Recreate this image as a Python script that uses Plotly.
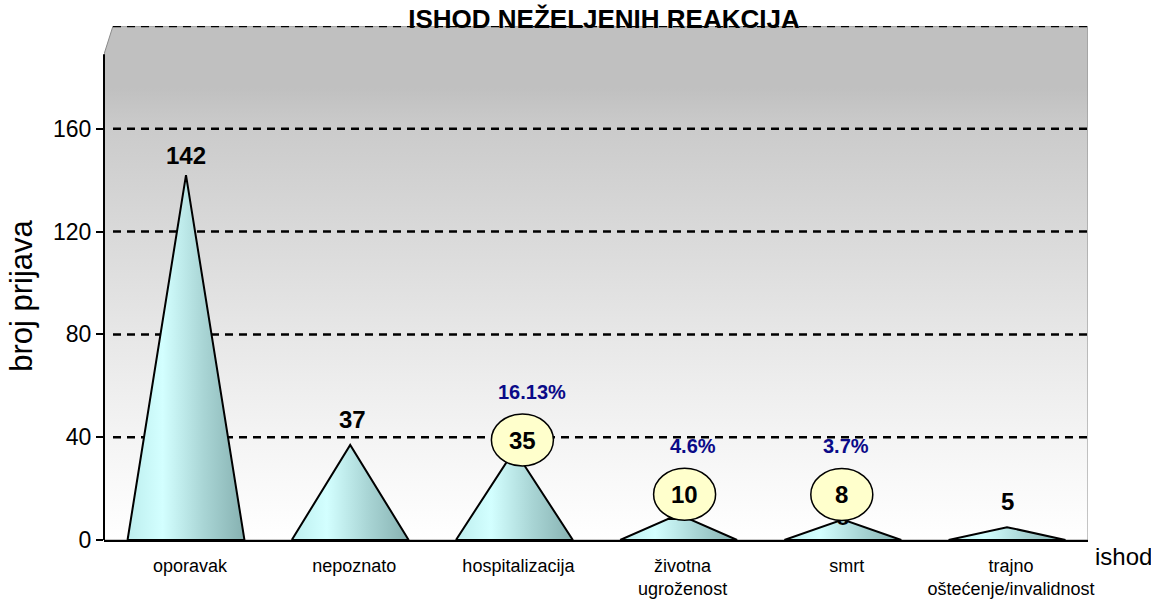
import plotly.graph_objects as go

# data
categories = ['oporavak', 'nepoznato', 'hospitalizacija',
              'životna<br>ugroženost', 'smrt', 'trajno<br>oštećenje/invalidnost']
counts = [142, 37, 35, 10, 8, 5]
highlighted = [2, 3, 4]
percent_labels = ['16.13%', '4.6%', '3.7%']
y_ticks = [0, 40, 80, 120, 160]
grid_values = [40, 80, 120, 160, 200]

# styling / placement (pixels)
label_dx = [0, 2, 8, 6, -1, 0]
label_dy = [20, 25, 10, 20, 25, 26]
pct_dx = [10, 8, 4]
FONT = 'Arial, Liberation Sans, sans-serif'

# axis ranges chosen so the plot matches the original 3D-looking Excel chart
x_range = [-0.4994, 5.4933]
y_range = [0, 200]
wall_left = -0.4446
half_w = 0.356

fig = go.Figure()

# back wall with grey -> white gradient
fig.add_trace(go.Scatter(
    x=[x_range[0], x_range[0], wall_left, x_range[1], x_range[1], x_range[0]],
    y=[0, 189, y_range[1], y_range[1], 0, 0],
    mode='lines', fill='toself',
    line=dict(color='#8a8a8a', width=1),
    fillgradient=dict(type='vertical', start=0, stop=200,
                      colorscale=[[0, '#ffffff'], [0.2, '#f4f4f4'], [0.4, '#e7e7e7'],
                                  [0.6, '#d9d9d9'], [0.8, '#cbcbcb'], [0.88, '#c0c0c0'],
                                  [1, '#c0c0c0']]),
    hoverinfo='skip', showlegend=False))

# dashed gridlines on the wall
for g in grid_values:
    fig.add_trace(go.Scatter(
        x=[wall_left, x_range[1]], y=[g, g], mode='lines',
        line=dict(color='black', width=2.5, dash='8px,6px'),
        hoverinfo='skip', showlegend=False))

# pyramids
for i, v in enumerate(counts):
    fig.add_trace(go.Scatter(
        x=[i - half_w, i, i + half_w, i - half_w],
        y=[0, v, 0, 0],
        mode='lines', fill='toself',
        line=dict(color='black', width=2),
        fillgradient=dict(type='horizontal',
                          colorscale=[[0, '#bdeeee'], [0.3, '#d3ffff'],
                                      [0.65, '#a9d5d5'], [1, '#86b1b1']]),
        hoverinfo='skip', showlegend=False))

# original data labels of the circled points, mostly hidden behind the ellipses
fig.add_trace(go.Scatter(
    x=highlighted, y=[counts[i] for i in highlighted],
    text=[f'<b>{counts[i]}</b>' for i in highlighted],
    mode='text', textposition='middle center',
    textfont=dict(family=FONT, size=22, color='black'),
    hoverinfo='skip', showlegend=False))

annotations = []
shapes = []

# value labels (circled ones get an ellipse behind them)
for i, v in enumerate(counts):
    annotations.append(dict(
        x=i, y=v, xref='x', yref='y', text=f'<b>{v}</b>', showarrow=False,
        xshift=label_dx[i], yshift=label_dy[i],
        font=dict(family=FONT, size=24, color='black')))
    if i in highlighted:
        shapes.append(dict(
            type='circle', xref='x', yref='y', xsizemode='pixel', ysizemode='pixel',
            xanchor=i, yanchor=v,
            x0=label_dx[i] - 31, x1=label_dx[i] + 31,
            y0=label_dy[i] - 26, y1=label_dy[i] + 26,
            fillcolor='#ffffcc', line=dict(color='black', width=1.5), layer='above'))

for k, i in enumerate(highlighted):
    annotations.append(dict(
        x=i, y=counts[i], xref='x', yref='y', text=f'<b>{percent_labels[k]}</b>',
        showarrow=False, xshift=label_dx[i] + pct_dx[k], yshift=label_dy[i] + 48,
        font=dict(family=FONT, size=20, color='#0a0a88')))

# axis titles
annotations.append(dict(
    x=-82 / 984, y=0.475, xref='paper', yref='paper', text='broj prijava',
    textangle=-90, showarrow=False, xanchor='center', yanchor='middle',
    font=dict(family=FONT, size=31, color='black')))
annotations.append(dict(
    x=1.005, y=-16 / 514, xref='paper', yref='paper', text='ishod',
    showarrow=False, xanchor='left', yanchor='middle',
    font=dict(family=FONT, size=24, color='black')))

# front y-axis line (shorter than the wall, 3D look)
shapes.append(dict(type='line', xref='paper', yref='y', x0=0, x1=0, y0=0, y1=189,
                   line=dict(color='black', width=2), layer='above'))

fig.update_layout(
    width=1151, height=602, autosize=False,
    margin=dict(l=104, r=63, t=26, b=62),
    paper_bgcolor='white', plot_bgcolor='white',
    title=dict(text='<b>ISHOD NEŽELJENIH REAKCIJA</b>', x=604 / 1151, xanchor='center',
               y=1 - 19 / 602, yanchor='middle', xref='container', yref='container',
               font=dict(family=FONT, size=26, color='black')),
    xaxis=dict(range=x_range, tickvals=list(range(len(categories))), ticktext=categories,
               showgrid=False, zeroline=False, showline=True, linecolor='black',
               linewidth=2, ticks='', tickfont=dict(family=FONT, size=18, color='black'),
               ticklabelstandoff=8, ticklabelshift=4, automargin=False),
    yaxis=dict(range=y_range, tickvals=y_ticks, showgrid=False, zeroline=False,
               showline=False, ticks='outside', ticklen=7, tickwidth=1.5,
               tickcolor='black', tickfont=dict(family=FONT, size=23, color='black'),
               automargin=False),
    annotations=annotations,
    shapes=shapes,
    showlegend=False,
)

# drop the default body margin so the figure sits at the page origin
fig.write_html('out.html', config={'displayModeBar': False},
               post_script="document.body.style.margin='0';")
